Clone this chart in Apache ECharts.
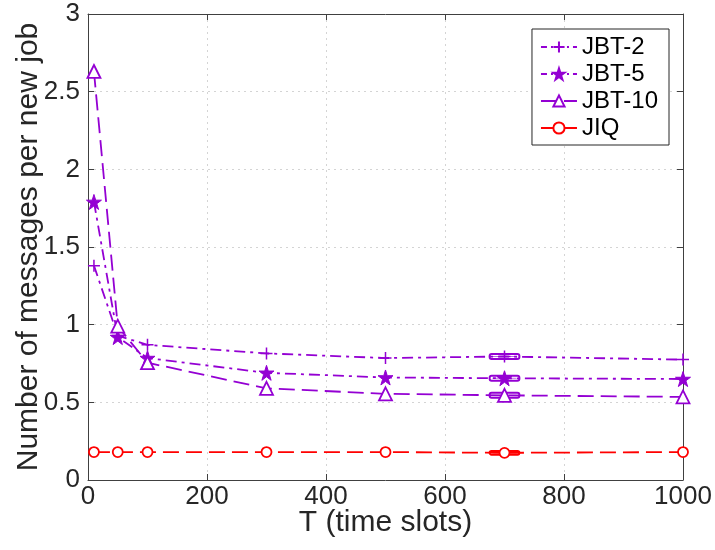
<!DOCTYPE html>
<html>
<head>
<meta charset="utf-8">
<script src="https://cdn.jsdelivr.net/npm/echarts@6/dist/echarts.min.js"></script>
<style>
html,body{margin:0;padding:0;background:#fff;}
#chart{width:715px;height:550px;}
</style>
</head>
<body>
<div id="chart"></div>
<script>
// ---- data ----
var T = [10, 50, 100, 300, 500, 700, 1000];
var jbt2 = [1.38, 0.93, 0.87, 0.815, 0.785, 0.795, 0.775];
var jbt5 = [1.79, 0.92, 0.785, 0.69, 0.66, 0.655, 0.65];
var jbt10 = [2.63, 0.99, 0.755, 0.59, 0.555, 0.545, 0.535];
var jiq = [0.18, 0.18, 0.18, 0.18, 0.18, 0.175, 0.18];
var seriesNames = ['JBT-2', 'JBT-5', 'JBT-10', 'JIQ'];
var xTicks = [0, 200, 400, 600, 800, 1000];
var yTicks = [0, 0.5, 1, 1.5, 2, 2.5, 3];
// error range at T = 700 (half widths in data units)
var errIndex = 5;
var errX = [25, 25, 25, 25];
var errY = [0.016, 0.016, 0.016, 0.012];

var PURPLE = '#9400D3';
var RED = '#FF0000';
var FONT = 'Liberation Sans, Arial, Helvetica, sans-serif';
var AXC = '#404040';

var chart = echarts.init(document.getElementById('chart'), null, {renderer: 'canvas'});

function pair(vals) { return T.map(function (t, i) { return [t, vals[i]]; }); }

var starPath = 'path://M50,0L61.2,34.5L97.6,34.5L68.2,55.9L79.4,90.5L50,69.1L20.6,90.5L31.8,55.9L2.4,34.5L38.8,34.5Z';
var plusPath = 'path://M0,50L100,50M50,0L50,100';

var allVals = [jbt2, jbt5, jbt10, jiq];
var colors = [PURPLE, PURPLE, PURPLE, RED];
var errData = allVals.map(function (v, i) {
  return [T[errIndex], v[errIndex], errX[i], errY[i], i];
});
var dashDot = [11, 5, 3, 5];
var dashed = [16, 7];

var option = {
  animation: false,
  backgroundColor: '#fff',
  textStyle: {fontFamily: FONT},
  grid: {left: 88, right: 32, top: 14, bottom: 70, containLabel: false},
  legend: {
    orient: 'vertical',
    right: 46,
    top: 29,
    padding: [6, 11, 5, 8],
    itemGap: 3,
    itemWidth: 36,
    itemHeight: 14,
    backgroundColor: '#fff',
    borderColor: '#262626',
    borderWidth: 1,
    borderRadius: 0,
    textStyle: {fontFamily: FONT, fontSize: 24, color: '#000', lineHeight: 22},
    data: [
      {name: seriesNames[0], lineStyle: {type: [6, 4, 2, 4]}},
      {name: seriesNames[1], lineStyle: {type: [6, 4, 2, 4]}},
      {name: seriesNames[2]},
      {name: seriesNames[3]}
    ]
  },
  xAxis: [{
    type: 'value', min: 0, max: 1000, interval: 200,
    name: 'T (time slots)', nameLocation: 'middle', nameGap: 28, nameMoveOverlap: false,
    nameTextStyle: {fontFamily: FONT, fontSize: 30, color: '#262626', verticalAlign: 'top', lineHeight: 30},
    axisLine: {show: true, lineStyle: {color: AXC, width: 1}},
    axisTick: {show: true, inside: true, length: 6, lineStyle: {color: AXC}},
    axisLabel: {fontFamily: FONT, fontSize: 26, color: '#262626', margin: 4,
      formatter: function (v) { return xTicks.indexOf(v) >= 0 ? String(v) : ''; }},
    splitLine: {show: true, lineStyle: {color: '#d4d4d4', type: [2, 4], width: 1}}
  }, {
    type: 'value', position: 'top', min: 0, max: 1000, interval: 200,
    axisLine: {show: true, onZero: false, lineStyle: {color: AXC, width: 1}},
    axisTick: {show: true, inside: true, length: 6, lineStyle: {color: AXC}},
    axisLabel: {show: false}, splitLine: {show: false}
  }],
  yAxis: [{
    type: 'value', min: 0, max: 3, interval: 0.5,
    name: 'Number of messages per new job', nameLocation: 'middle', nameGap: 44, nameMoveOverlap: false,
    nameTextStyle: {fontFamily: FONT, fontSize: 30, color: '#262626', lineHeight: 30},
    axisLine: {show: true, lineStyle: {color: AXC, width: 1}},
    axisTick: {show: true, inside: true, length: 6, lineStyle: {color: AXC}},
    axisLabel: {fontFamily: FONT, fontSize: 26, color: '#262626', margin: 8,
      formatter: function (v) { return yTicks.indexOf(v) >= 0 ? String(v) : ''; }},
    splitLine: {show: true, lineStyle: {color: '#d4d4d4', type: [2, 4], width: 1}}
  }, {
    type: 'value', position: 'right', min: 0, max: 3, interval: 0.5,
    axisLine: {show: true, onZero: false, lineStyle: {color: AXC, width: 1}},
    axisTick: {show: true, inside: true, length: 6, lineStyle: {color: AXC}},
    axisLabel: {show: false}, splitLine: {show: false}
  }],
  series: [
    {
      name: 'JBT-2', type: 'line', data: pair(jbt2),
      symbol: plusPath, symbolSize: 12,
      itemStyle: {color: PURPLE, borderColor: PURPLE, borderWidth: 1.5},
      lineStyle: {color: PURPLE, width: 1.8, type: dashDot}
    },
    {
      name: 'JBT-5', type: 'line', data: pair(jbt5),
      symbol: starPath, symbolSize: 15,
      itemStyle: {color: PURPLE, borderColor: PURPLE, borderWidth: 1},
      lineStyle: {color: PURPLE, width: 1.8, type: dashDot}
    },
    {
      name: 'JBT-10', type: 'line', data: pair(jbt10),
      symbol: 'triangle', symbolSize: 13,
      itemStyle: {color: '#fff', borderColor: PURPLE, borderWidth: 1.8},
      lineStyle: {color: PURPLE, width: 1.8, type: dashed}
    },
    {
      name: 'JIQ', type: 'line', data: pair(jiq),
      symbol: 'circle', symbolSize: 10,
      itemStyle: {color: '#fff', borderColor: RED, borderWidth: 1.8},
      lineStyle: {color: RED, width: 1.8, type: dashed}
    },
    {
      type: 'custom', silent: true, z: 3,
      data: errData,
      renderItem: function (params, api) {
        var x = api.value(0), y = api.value(1), dx = api.value(2), dy = api.value(3), k = api.value(4);
        var p1 = api.coord([x - dx, y + dy]);
        var p2 = api.coord([x + dx, y - dy]);
        var c = colors[k];
        return {
          type: 'group',
          children: [
            {type: 'rect', shape: {x: p1[0], y: p1[1], width: p2[0] - p1[0], height: p2[1] - p1[1], r: 2},
              style: {fill: null, stroke: c, lineWidth: 2}},
            {type: 'line', shape: {x1: p1[0] + 3, y1: (p1[1] + p2[1]) / 2, x2: p2[0] - 3, y2: (p1[1] + p2[1]) / 2},
              style: {stroke: c, lineWidth: 1, opacity: 0.6}}
          ]
        };
      }
    }
  ]
};
chart.setOption(option);
</script>
</body>
</html>
